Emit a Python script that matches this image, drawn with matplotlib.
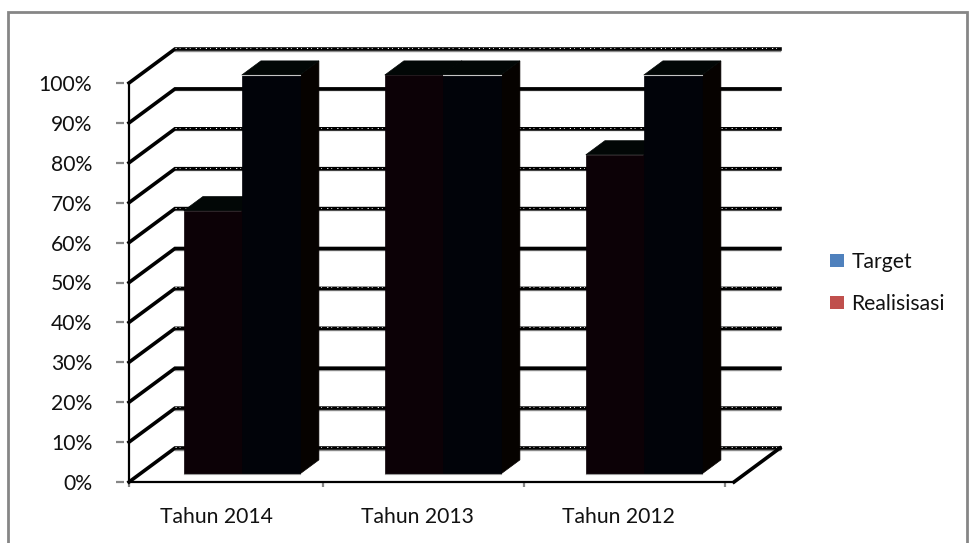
import matplotlib
matplotlib.use("Agg")
import matplotlib.pyplot as plt
from matplotlib.patches import Patch, Polygon, Rectangle

plt.rcParams['font.family'] = ['Lato', 'DejaVu Sans']

# Data
categories = ['Tahun 2014', 'Tahun 2013', 'Tahun 2012']
target = [66, 100, 80]
realisasi = [100, 100, 100]
y_ticks = [0, 10, 20, 30, 40, 50, 60, 70, 80, 90, 100]
y_labels = ['0%', '10%', '20%', '30%', '40%', '50%', '60%', '70%', '80%', '90%', '100%']
speckled = [0, 10, 30, 40, 60, 70, 80, 100]

W, H = 972, 543
FONT = 15.2
fig = plt.figure(figsize=(W / 100, H / 100), dpi=100)

# Outer frame of the pasted chart, runs off the bottom
fig.add_artist(Rectangle((8 / W, -0.02), 959 / W, 1.02 - 12 / H, transform=fig.transFigure,
                         fill=False, edgecolor='#868686', linewidth=2))

# Front plane of the fake 3d box: 200 px per category, 3.99 px per percent
X_END = 3.025
ax = fig.add_axes([129 / W, 1 - 482 / H, X_END * 200 / W, 399 / H])

DX = 46 / 200   # whole depth of the box in x units
DY = 34 / 3.99  # whole depth of the box in y units


def project(x, y, d):
    return x + d * DX, y + d * DY


def draw_face(points, color, z):
    ax.add_patch(Polygon(points, closed=True, facecolor=color, edgecolor=color,
                         linewidth=0.5, clip_on=False, zorder=z))


def draw_bar(x0, x1, val, front, side, top, z):
    d0, d1 = 0.235, 0.65
    base = 0
    draw_face([project(x1, base, d0), project(x1, base, d1), project(x1, val, d1), project(x1, val, d0)], side, z)
    draw_face([project(x0, val, d0), project(x1, val, d0), project(x1, val, d1), project(x0, val, d1)], top, z)
    draw_face([project(x0, base, d0), project(x1, base, d0), project(x1, val, d0), project(x0, val, d0)], front, z + 0.1)


# Wall gridlines and their slanted part on the side wall
for level in y_ticks:
    xa, ya = project(0, level, 0)
    xb, yb = project(0, level, 1)
    xc, yc = project(X_END, level, 1)
    ax.plot([xb, xc], [yb - 0.4, yc - 0.4], color='#8c8c8c', lw=1.0, clip_on=False, zorder=1)
    ax.plot([xa, xb, xc], [ya, yb, yc], color='black', lw=2.6, clip_on=False, zorder=2,
            solid_joinstyle='miter')
    if level in speckled:
        ax.plot([xb, xc], [yb + 0.25, yc + 0.25], color='white', lw=0.7, clip_on=False, zorder=3,
                linestyle=(0, (1.2, 3.1, 0.8, 5.3)))

# Floor edge on the right
xa, ya = project(X_END, 0, 0)
xb, yb = project(X_END, 0, 1)
ax.plot([xa, xb], [ya, yb], color='black', lw=2.6, clip_on=False, zorder=2)

# Bars, much darker than the legend colours in the source
bar_width = 0.29
for i, cat in enumerate(categories):
    center = 0.51 + i * 1.005
    draw_bar(center - bar_width, center, target[i], '#0c0106', '#060200', '#020706', 4)
    draw_bar(center, center + bar_width, realisasi[i], '#010309', '#060200', '#020706', 5)
    # pale edge along the front of the bar
    x0, y0 = project(center - bar_width, 0, 0.235)
    x1, y1 = project(center + bar_width, 0, 0.235)
    ax.plot([x0, x1], [y0, y1], color='#9a9a9a', lw=0.8, clip_on=False, zorder=6)
    x0, y0 = project(center, realisasi[i], 0.235)
    x1, y1 = project(center + bar_width, realisasi[i], 0.235)
    ax.plot([x0, x1], [y0, y1], color='#c4c4c4', lw=0.8, clip_on=False, zorder=6)

# Front axis lines in black, ticks in grey a little to the left
ax.plot([0, 0], [0, 100], color='black', lw=1.6, clip_on=False, zorder=3)
ax.plot([0, X_END], [0, 0], color='black', lw=1.6, clip_on=False, zorder=3)

for name in ['top', 'right', 'bottom']:
    ax.spines[name].set_visible(False)
ax.spines['left'].set_position(('outward', 3.6))
ax.spines['left'].set_visible(False)

ax.set_yticks(y_ticks)
ax.set_yticklabels(y_labels)
ax.tick_params(axis='y', length=5.8, width=1.6, color='#868686', pad=17, labelsize=FONT, labelcolor='#111111')

ax.set_xticks([0, 0.97, 1.975, 2.98])
ax.set_xticklabels([])
ax.tick_params(axis='x', length=3.6, width=1.6, color='#868686', direction='out')

# set_xticks widens the view, so the limits come last
ax.set_xlim(0, X_END)
ax.set_ylim(0, 100)

for i, cat in enumerate(categories):
    ax.annotate(cat, xy=(0.435 + i * 1.005, 0), xytext=(0, -35), textcoords='offset pixels',
                ha='center', va='center', fontsize=FONT, color='#111111', annotation_clip=False)

handles = [Patch(facecolor='#4f81bd', label='Target'), Patch(facecolor='#c0504d', label='Realisisasi')]
fig.legend(handles=handles, loc='center left', bbox_to_anchor=(822 / W, 1 - 283 / H), frameon=False,
           fontsize=FONT, labelcolor='#111111', handlelength=0.62, handleheight=0.62,
           handletextpad=0.38, labelspacing=1.05, borderpad=0, borderaxespad=0.4)

fig.savefig('out.png', dpi=100)
